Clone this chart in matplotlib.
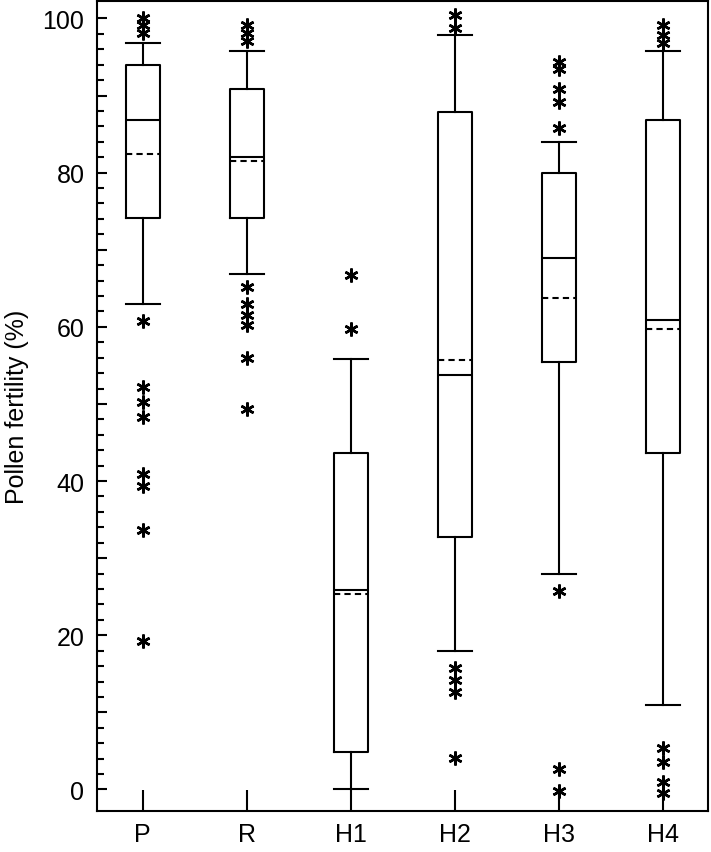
import numpy as np
import matplotlib
matplotlib.use("Agg")
import matplotlib.pyplot as plt
from matplotlib.ticker import FixedLocator, FuncFormatter

plt.rcParams['font.family'] = ['Liberation Sans', 'DejaVu Sans']

# values
labels = ['P', 'R', 'H1', 'H2', 'H3', 'H4']
whis_lo = [63.0, 66.8, 0.0, 18.0, 27.9, 11.0]
q1 = [74.1, 74.1, 4.9, 32.7, 55.5, 43.7]
medians = [86.8, 82.0, 25.9, 53.8, 68.9, 60.9]
means = [82.4, 81.5, 25.3, 55.7, 63.7, 59.7]
q3 = [94.0, 90.9, 43.7, 87.9, 79.9, 86.8]
whis_hi = [96.8, 95.8, 55.8, 97.8, 84.0, 95.8]
outliers = [
    [100.1, 99.1, 98.1, 60.8, 52.2, 50.2, 48.3, 40.9, 39.4, 33.7, 19.3],
    [99.2, 98.1, 97.1, 65.2, 63.0, 61.5, 60.2, 55.9, 49.4],
    [66.7, 59.7],
    [100.5, 98.8, 15.8, 14.2, 12.7, 4.1],
    [94.3, 93.4, 90.8, 89.1, 85.8, 25.7, 2.7, -0.2],
    [99.2, 97.9, 96.8, 5.4, 3.6, 1.0, -0.5],
]

stats = []
for i in range(len(labels)):
    stats.append(dict(label=labels[i], whislo=whis_lo[i], q1=q1[i], med=medians[i],
                      mean=means[i], q3=q3[i], whishi=whis_hi[i], fliers=outliers[i]))

fig = plt.figure(figsize=(7.11, 8.53), dpi=100)
ax = fig.add_axes([0.1364, 0.048, 0.8594, 0.950])

lw = 1.5
ax.bxp(stats, positions=range(1, 7), widths=0.33, showmeans=True, meanline=True,
       boxprops=dict(color='black', linewidth=lw),
       whiskerprops=dict(color='black', linewidth=lw),
       capprops=dict(color='black', linewidth=lw),
       medianprops=dict(color='black', linewidth=lw),
       meanprops=dict(color='black', linewidth=lw, linestyle=(0, (3, 2))),
       flierprops=dict(marker=(6, 2, 0), markersize=10, markeredgewidth=1.8,
                       markeredgecolor='black', markerfacecolor='black'),
       capwidths=0.33)

ax.set_xlim(0.56, 6.43)
ax.set_ylim(-2.8, 102.3)

ax.yaxis.set_major_locator(FixedLocator(np.arange(0, 101, 10)))
ax.yaxis.set_minor_locator(FixedLocator(np.arange(0, 101, 2)))
ax.yaxis.set_major_formatter(FuncFormatter(lambda v, p: '%d' % v if int(round(v)) % 20 == 0 else ''))
ax.tick_params(axis='y', which='major', direction='in', length=7, width=lw, labelsize=18, pad=9)
ax.tick_params(axis='y', which='minor', direction='in', length=5, width=lw)
ax.tick_params(axis='x', direction='in', length=15, width=lw, labelsize=18, pad=8)
ax.tick_params(right=False, top=False)

for s in ax.spines.values():
    s.set_linewidth(lw)

ax.set_ylabel('Pollen fertility (%)', fontsize=18, labelpad=10)

fig.savefig('out.png', dpi=100)
